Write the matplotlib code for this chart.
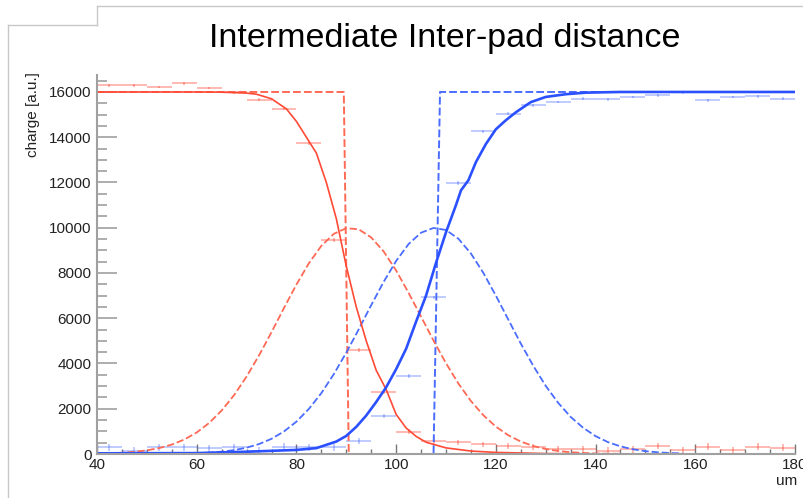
import numpy as np
import matplotlib
matplotlib.use("Agg")
import matplotlib.pyplot as plt
from matplotlib.lines import Line2D
from matplotlib.ticker import MultipleLocator

plt.rcParams['font.family'] = ['Liberation Sans', 'DejaVu Sans']

# ==================
# data
# ==================
# binned measurements (5 um bins)
bin_x = [42.5, 47.5, 52.5, 57.5, 62.5, 67.5, 72.5, 77.5, 82.5, 87.5,
         92.5, 97.5, 102.5, 107.5, 112.5, 117.5, 122.5, 127.5, 132.5, 137.5,
         142.5, 147.5, 152.5, 157.5, 162.5, 167.5, 172.5, 177.5]
red_pts = [16290, 16290, 16220, 16390, 16170, 15980, 15660, 15260, 13740, 9450,
           4590, 2750, 985, 560, 510, 420, 350, 290, 220, 200,
           150, 200, 350, 180, 320, 180, 320, 280]
red_err = [60, 60, 60, 60, 60, 60, 60, 60, 80, 80,
           80, 80, 100, 120, 120, 120, 130, 130, 140, 150,
           150, 150, 150, 150, 150, 150, 150, 150]
blue_pts = [300, 150, 300, 300, 250, 300, 150, 320, 300, 300,
            590, 1670, 3450, 6920, 11980, 14260, 15040, 15410, 15560, 15700,
            15670, 15780, 15850, 15980, 15630, 15780, 15810, 15700]
blue_err = [150, 150, 150, 150, 150, 150, 150, 150, 150, 150,
            130, 100, 80, 80, 80, 60, 60, 60, 60, 60,
            60, 60, 60, 60, 60, 60, 60, 60]

# ideal pad response (step)
red_step_x = [40, 89.5, 90.5, 180]
red_step_y = [16000, 16000, 0, 0]
blue_step_x = [40, 107.5, 108.8, 180]
blue_step_y = [0, 0, 16000, 16000]

# charge cloud profiles
red_gaus_x = [40, 42.5, 45, 47.5, 50, 52.5, 55, 57.5, 60, 62.5, 65, 67.5, 70,
              72.5, 75, 77.5, 80, 82.5, 85, 87.5, 90, 92.5, 95, 97.5, 100,
              102.5, 105, 107.5, 110, 112.5, 115, 117.5, 120, 122.5, 125,
              127.5, 130, 132.5, 135, 137.5, 140, 142.5, 145, 147.5, 150]
red_gaus_y = [17, 31, 55, 96, 161, 263, 416, 639, 950, 1373, 1920, 2603, 3420,
              4360, 5380, 6450, 7490, 8430, 9200, 9730, 9980, 9930, 9570, 8950, 8110,
              7120, 6070, 5010, 4010, 3110, 2340, 1710, 1210, 828, 550,
              354, 221, 134, 79, 45, 25, 13, 7, 3, 2]
blue_gaus_x = [60, 62.5, 65, 67.5, 70, 72.5, 75, 77.5, 80, 82.5, 85, 87.5, 90,
               92.5, 95, 97.5, 100, 102.5, 105, 107.5, 110, 112.5, 115, 117.5,
               120, 122.5, 125, 127.5, 130, 132.5, 135, 137.5, 140, 142.5, 145,
               147.5, 150, 152.5, 155, 157.5]
blue_gaus_y = [33, 59, 102, 171, 279, 439, 672, 996, 1430, 1994, 2690, 3530, 4480,
               5510, 6580, 7610, 8530, 9280, 9780, 9990, 9900, 9510, 8860, 8000,
               7000, 5940, 4880, 3900, 3010, 2260, 1640, 1160, 790, 523, 336,
               209, 126, 74, 42, 23]

# collected charge (simulation)
red_sim_x = [40, 50, 60, 65, 70, 72, 75, 78, 80, 82, 84, 86, 88, 90, 92, 94,
             96, 98, 100, 102, 104, 106, 110, 115, 120, 130, 140, 180]
red_sim_y = [16000, 16000, 16000, 15990, 15950, 15900, 15700, 15250, 14700, 14000,
             13300, 12000, 10400, 8300, 6500, 5000, 3700, 2850, 1750, 1150, 780,
             520, 270, 130, 70, 20, 5, 0]
blue_sim_x = [40, 60, 70, 80, 84, 88, 90, 92, 94, 96, 98, 100, 102, 104, 106,
              108, 110, 112, 113, 114.5, 116, 118, 120, 122, 124, 127, 130, 134,
              138, 145, 180]
blue_sim_y = [30, 40, 100, 180, 260, 550, 800, 1200, 1700, 2300, 2950, 3750, 4650,
              5850, 7000, 8450, 9800, 11000, 11650, 12100, 12900, 13700, 14350,
              14750, 15100, 15550, 15780, 15900, 15970, 16000, 16000]

# ==================
# plot
# ==================
red = '#ff4a36'
red_l = '#ff6a55'
blue = '#2b50ff'
blue_l = '#4a6dff'
grey = '#a0a0a0'

fig = plt.figure(figsize=(8.04, 4.98), dpi=100)
ax = fig.add_axes([97 / 804, 1 - 454 / 498, (795 - 97) / 804, (454 - 75) / 498])

ax.errorbar(bin_x, red_pts, xerr=2.5, yerr=red_err, fmt='none',
            ecolor=red, alpha=0.45, lw=1.2)
ax.errorbar(bin_x, blue_pts, xerr=2.5, yerr=blue_err, fmt='none',
            ecolor=blue, alpha=0.35, lw=1.2)

dash = (4, 1.6)
ax.plot(red_step_x, red_step_y, color=red_l, lw=1.4, dashes=dash)
ax.plot(blue_step_x, blue_step_y, color=blue_l, lw=1.4, dashes=dash)
ax.plot(red_gaus_x, red_gaus_y, color=red_l, lw=1.3, dashes=dash)
ax.plot(blue_gaus_x, blue_gaus_y, color=blue_l, lw=1.3, dashes=dash)

ax.plot(red_sim_x, red_sim_y, color=red, lw=1.2)
ax.plot(blue_sim_x, blue_sim_y, color=blue, lw=1.9)

ax.set_xlim(40, 180)
ax.set_ylim(0, 16750)
ax.xaxis.set_major_locator(MultipleLocator(20))
ax.xaxis.set_minor_locator(MultipleLocator(5))
ax.yaxis.set_major_locator(MultipleLocator(2000))
ax.yaxis.set_minor_locator(MultipleLocator(500))

for s in ['top', 'right']:
    ax.spines[s].set_visible(False)
for s in ['left', 'bottom']:
    ax.spines[s].set_color(grey)
    ax.spines[s].set_linewidth(1.5)

ax.tick_params(axis='y', which='major', direction='in', length=14.5, width=1.2,
               color=grey, labelsize=11, labelcolor='#222222', pad=4)
ax.tick_params(axis='y', which='minor', direction='in', length=7.2, width=1.2,
               color=grey)
ax.tick_params(axis='x', which='major', direction='in', length=7.5, width=1.0,
               color='#777777', labelsize=11, labelcolor='#222222', pad=3)
ax.tick_params(axis='x', which='minor', direction='in', length=3.6, width=1.0,
               color='#777777')

fig.text(445 / 804, 1 - 39 / 498, 'Intermediate Inter-pad distance',
         fontsize=24.5, ha='center', va='center')
fig.text(33 / 804, 1 - 72 / 498, 'charge [a.u.]', rotation=90,
         fontsize=11, ha='center', va='top', color='#222222')
fig.text(797 / 804, 1 - 481 / 498, 'um', fontsize=11, ha='right',
         va='center', color='#222222')

# page frame
frame = dict(color='#c8c8c8', lw=1.0, transform=fig.transFigure)
fig.add_artist(Line2D([8 / 804, 8 / 804], [0, 1 - 25 / 498], **frame))
fig.add_artist(Line2D([8 / 804, 97 / 804], [1 - 25 / 498, 1 - 25 / 498], **frame))
fig.add_artist(Line2D([97 / 804, 97 / 804], [1 - 25 / 498, 1 - 6 / 498], **frame))
fig.add_artist(Line2D([97 / 804, 1], [1 - 6 / 498, 1 - 6 / 498], **frame))

fig.savefig('out.png', dpi=100)
